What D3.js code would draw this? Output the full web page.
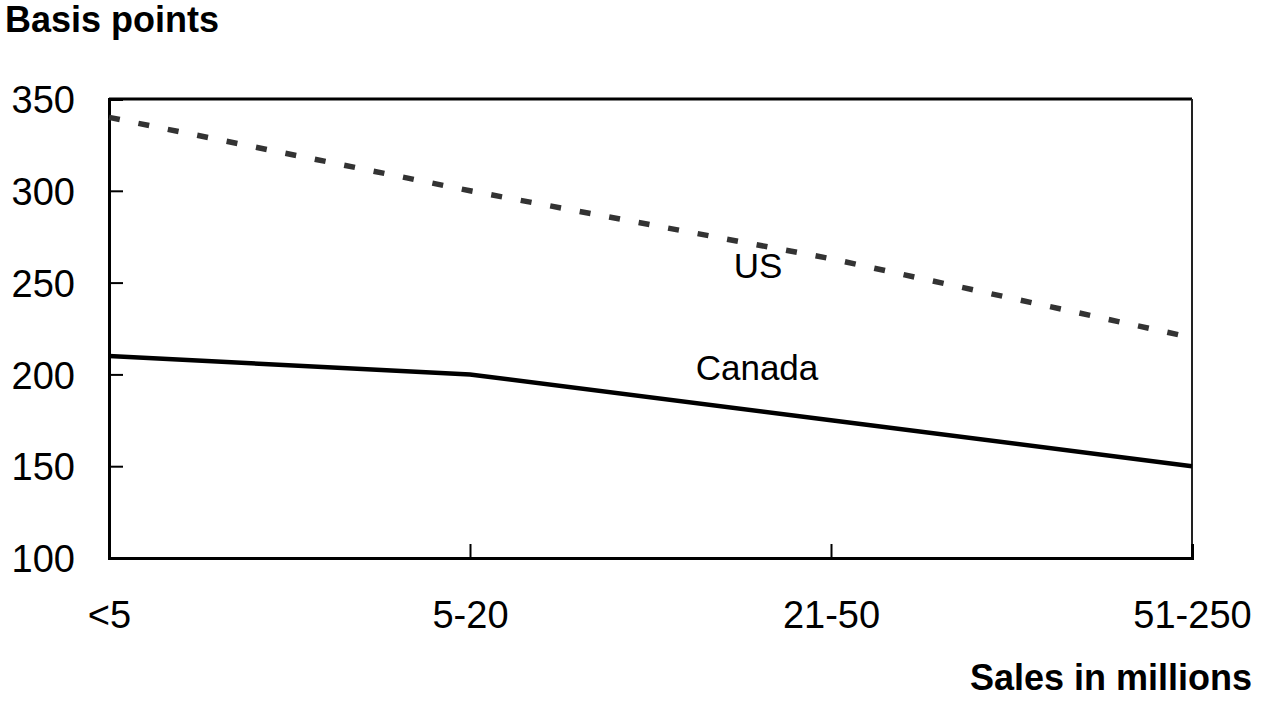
<!DOCTYPE html>
<html><head><meta charset="utf-8">
<script src="https://cdn.jsdelivr.net/npm/d3@7"></script>
<style>body{margin:0;background:#fff}svg{display:block}text{font-family:"Liberation Sans",Arial,sans-serif}</style>
</head><body>
<script>
const categories = ["<5", "5-20", "21-50", "51-250"];
const usValues = [340, 300, 263, 220];
const canadaValues = [210, 200, 175, 150];
const yTicks = [100, 150, 200, 250, 300, 350];

(function () {
const W = 1262, H = 702;
const pL = 109, pR = 1192, pT = 99, pB = 558;
const svg = d3.select("body").append("svg").attr("width", W).attr("height", H);

const x = d3.scalePoint().domain(categories).range([pL, pR]);
const y = d3.scaleLinear().domain([100, 350]).range([pB, pT]);

// frame
svg.append("line").attr("x1", pL).attr("x2", pR).attr("y1", pT).attr("y2", pT).attr("stroke", "#000").attr("stroke-width", 3);
svg.append("line").attr("x1", pR).attr("x2", pR).attr("y1", pT).attr("y2", pB).attr("stroke", "#222").attr("stroke-width", 2);

// y axis
const yAxis = svg.append("g").attr("transform", `translate(${pL},0)`)
  .call(d3.axisRight(y).tickValues(yTicks).tickSize(14).tickFormat(d3.format("d")));
yAxis.select(".domain").attr("stroke", "#000").attr("stroke-width", 3);
yAxis.selectAll(".tick line").attr("stroke", "#000").attr("stroke-width", 2);
yAxis.selectAll(".tick text").attr("x", -34).attr("text-anchor", "end").attr("dy", "0.36em")
  .attr("font-size", 38).attr("fill", "#000");

// x axis
const xAxis = svg.append("g").attr("transform", `translate(0,${pB})`)
  .call(d3.axisTop(x).tickSize(14));
xAxis.select(".domain").attr("stroke", "#000").attr("stroke-width", 3);
xAxis.selectAll(".tick line").attr("stroke", "#000").attr("stroke-width", 2);
xAxis.selectAll(".tick text").attr("y", 70).attr("dy", 0).attr("font-size", 38).attr("fill", "#000");

const line = d3.line().x((d, i) => x(categories[i])).y(d => y(d));

svg.append("path").datum(canadaValues).attr("d", line)
  .attr("fill", "none").attr("stroke", "#000").attr("stroke-width", 4.5);
svg.append("path").datum(usValues).attr("d", line)
  .attr("fill", "none").attr("stroke", "#333").attr("stroke-width", 5.5)
  .attr("stroke-dasharray", "11,19");

svg.append("text").attr("x", 758).attr("y", 278).attr("text-anchor", "middle").attr("font-size", 35).text("US");
svg.append("text").attr("x", 757).attr("y", 380).attr("text-anchor", "middle").attr("font-size", 35).text("Canada");

svg.append("text").attr("x", 5).attr("y", 32).attr("font-size", 36).attr("font-weight", "bold").text("Basis points");
svg.append("text").attr("x", 1252).attr("y", 690).attr("text-anchor", "end").attr("font-size", 36).attr("font-weight", "bold").text("Sales in millions");
})();
</script>
</body></html>
